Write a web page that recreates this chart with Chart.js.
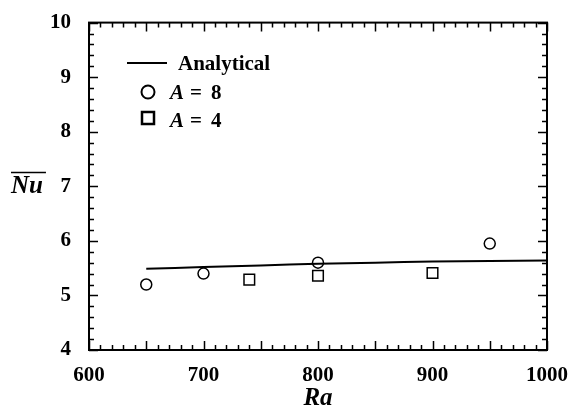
<!DOCTYPE html>
<html>
<head>
<meta charset="utf-8">
<script src="https://cdn.jsdelivr.net/npm/chart.js@4"></script>
<style>
  html, body { margin: 0; background: #fff; }
</style>
</head>
<body>
<canvas id="nuChart" width="573" height="408"></canvas>
<script>
// mean Nusselt number vs Rayleigh number
const raCurve = [650, 700, 750, 800, 850, 900, 950, 1000];
const nuAnalytical = [5.49, 5.52, 5.55, 5.58, 5.60, 5.62, 5.63, 5.64];
const raA8 = [650, 700, 800, 950];
const nuA8 = [5.20, 5.40, 5.60, 5.95];
const raA4 = [740, 800, 900];
const nuA4 = [5.29, 5.36, 5.41];
const xTicks = [600, 700, 800, 900, 1000];
const yTicks = [4, 5, 6, 7, 8, 9, 10];

const serif = '"Liberation Serif", "DejaVu Serif", serif';

const toPoints = (xs, ys) => xs.map((x, i) => ({ x: x, y: ys[i] }));

// box around the plot with inward ticks on all sides, legend and axis titles
const framePlugin = {
  id: 'frame',
  afterDraw(chart) {
    const ctx = chart.ctx;
    const a = chart.chartArea;
    const xs = chart.scales.x;
    const ys = chart.scales.y;
    ctx.save();
    ctx.strokeStyle = '#000';
    ctx.lineWidth = 2;
    ctx.strokeRect(a.left, a.top, a.right - a.left, a.bottom - a.top);

    ctx.lineWidth = 1.5;
    ctx.beginPath();
    for (let i = 0; i <= 40; i++) {
      const px = Math.round(xs.getPixelForValue(600 + i * 10)) + 0.5;
      const len = i % 5 === 0 ? 9 : 5;
      ctx.moveTo(px, a.bottom); ctx.lineTo(px, a.bottom - len);
      ctx.moveTo(px, a.top); ctx.lineTo(px, a.top + len);
    }
    for (let i = 0; i <= 30; i++) {
      const py = Math.round(ys.getPixelForValue(4 + i * 0.2)) + 0.5;
      const len = i % 5 === 0 ? 9 : 5;
      ctx.moveTo(a.left, py); ctx.lineTo(a.left + len, py);
      ctx.moveTo(a.right, py); ctx.lineTo(a.right - len, py);
    }
    ctx.stroke();

    // legend
    ctx.fillStyle = '#000';
    ctx.textBaseline = 'alphabetic';
    ctx.textAlign = 'left';
    ctx.lineWidth = 2;
    ctx.beginPath();
    ctx.moveTo(127, 63); ctx.lineTo(167, 63);
    ctx.stroke();
    ctx.font = 'bold 21px ' + serif;
    ctx.fillText('Analytical', 178, 70);

    ctx.lineWidth = 2;
    ctx.beginPath();
    ctx.arc(148, 92, 6.5, 0, Math.PI * 2);
    ctx.stroke();
    ctx.lineWidth = 2.5;
    ctx.strokeRect(142, 112, 12, 12);

    const drawLabel = (y, val) => {
      ctx.font = 'bold italic 21px ' + serif;
      ctx.fillText('A', 170, y);
      ctx.font = 'bold 21px ' + serif;
      ctx.fillText('=', 190, y);
      ctx.fillText(val, 211, y);
    };
    drawLabel(99, '8');
    drawLabel(127, '4');

    // axis titles
    ctx.font = 'bold italic 25px ' + serif;
    ctx.textAlign = 'center';
    ctx.fillText('Ra', (a.left + a.right) / 2, 405);

    ctx.textAlign = 'left';
    ctx.fillText('Nu', 11, 193);
    const nw = ctx.measureText('Nu').width;
    ctx.lineWidth = 1.5;
    ctx.beginPath();
    ctx.moveTo(11, 172.5); ctx.lineTo(14 + nw, 172.5);
    ctx.stroke();
    ctx.restore();
  }
};

new Chart(document.getElementById('nuChart'), {
  type: 'scatter',
  data: {
    datasets: [
      {
        type: 'line',
        label: 'Analytical',
        data: toPoints(raCurve, nuAnalytical),
        borderColor: '#000',
        borderWidth: 2,
        pointRadius: 0,
        tension: 0.3,
        fill: false
      },
      {
        label: 'A = 8',
        data: toPoints(raA8, nuA8),
        pointStyle: 'circle',
        pointRadius: 5.5,
        borderColor: '#000',
        borderWidth: 1.5,
        backgroundColor: '#fff'
      },
      {
        label: 'A = 4',
        data: toPoints(raA4, nuA4),
        pointStyle: 'rect',
        pointRadius: 7.5,
        borderColor: '#000',
        borderWidth: 1.5,
        backgroundColor: '#fff'
      }
    ]
  },
  options: {
    responsive: false,
    animation: false,
    devicePixelRatio: 1,
    layout: { padding: { left: 0, right: 20, top: 20, bottom: 0 } },
    plugins: {
      legend: { display: false },
      tooltip: { enabled: false }
    },
    scales: {
      x: {
        type: 'linear',
        min: 600,
        max: 1000,
        afterBuildTicks: s => { s.ticks = xTicks.map(v => ({ value: v })); },
        afterFit: s => { s.height = 58; },
        grid: { display: false },
        border: { display: false },
        ticks: {
          color: '#000',
          padding: 5,
          maxRotation: 0,
          callback: v => String(v),
          font: { family: serif, size: 21, weight: 'bold' }
        }
      },
      y: {
        type: 'linear',
        min: 4,
        max: 10,
        afterBuildTicks: s => { s.ticks = yTicks.map(v => ({ value: v })); },
        afterFit: s => { s.width = 89; },
        grid: { display: false },
        border: { display: false },
        ticks: {
          color: '#000',
          padding: 10,
          callback: v => String(v),
          font: { family: serif, size: 21, weight: 'bold' }
        }
      }
    }
  },
  plugins: [framePlugin]
});
</script>
</body>
</html>
